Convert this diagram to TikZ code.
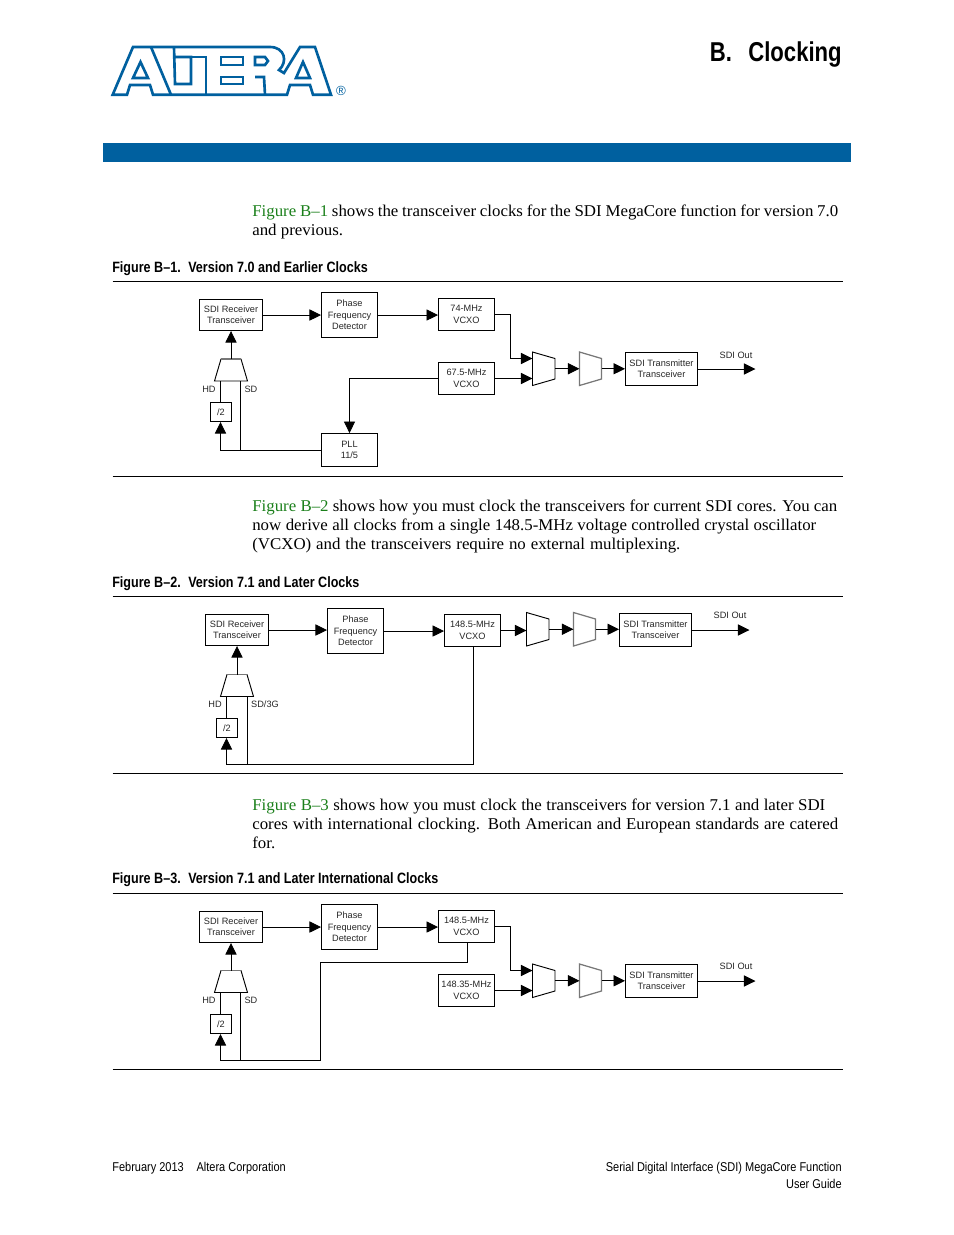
\documentclass[tikz,border=0pt]{standalone}
\usepackage{fontspec}
\usetikzlibrary{arrows.meta}
\setmainfont[FakeStretch=1.025]{Liberation Serif}
\newfontfamily\dgfont{Liberation Sans}
\newfontfamily\condfont[FakeStretch=0.86]{Liberation Sans}
\newfontfamily\headfont[FakeStretch=0.84]{Liberation Sans}
\newfontfamily\titlefont[FakeStretch=0.81]{Liberation Sans}
\definecolor{alterablue}{HTML}{00609F}
\definecolor{figgreen}{HTML}{1A7F1A}
\definecolor{muxgray}{HTML}{777777}
\tikzset{
  blk/.style={draw=black,line width=0.6pt,inner sep=0pt,align=center,font=\dgfont\fontsize{5.9}{7.3}\selectfont,text=black!85},
  lab/.style={inner sep=0pt,font=\dgfont\fontsize{5.9}{7.3}\selectfont,text=black!85},
  wire/.style={line width=0.6pt,draw=black},
  arr/.style={wire,-{Triangle[length=7.4pt,width=7.2pt]}},
  hole/.style={inner sep=0pt,outer sep=0pt},
  muxa/.style={draw=black,line width=0.6pt},
  muxb/.style={draw=muxgray,line width=0.8pt},
  rulel/.style={line width=0.6pt,draw=black},
  body/.style={inner sep=0pt,anchor=west,align=left,font=\fontsize{10.55}{12.2}\selectfont},
  fighead/.style={inner sep=0pt,anchor=west,font=\headfont\bfseries\fontsize{9.6}{11}\selectfont},
  foot/.style={inner sep=0pt,font=\condfont\fontsize{8.2}{10}\selectfont},
  logol/.style={draw=alterablue,line width=1.7pt,line join=miter,fill=white},
  logos/.style={draw=alterablue,line width=1.7pt,line join=miter}
}
\newcommand{\bx}[6]{\node[blk,minimum width={(#4-#2)*0.6415pt},minimum height={(#5-#3)*0.6415pt}] (#1) at ({(#2+#4)/2},{(#3+#5)/2}) {#6};}
\newcommand{\muxh}[6]{\node[hole,minimum width={(#5-#2)*0.6415pt},minimum height={(#4-#3)*0.6415pt}] (#1) at ({(#2+#5)/2},{(#3+#4)/2}) {};
  \draw[#6] (#2,#3) -- (#5,#3+6.5) -- (#5,#4-6.5) -- (#2,#4) -- cycle;}
\newcommand{\trap}[4]{\node[hole,minimum width={33*0.6415pt},minimum height={(#4-#3)*0.6415pt}] (#1) at (#2,{(#3+#4)/2}) {};
  \draw[muxa] (#2-10,#3) -- (#2-16.5,#4) -- (#2+16.5,#4) -- (#2+10,#3) -- cycle;
  \draw[muxb] (#2-10,#3) -- (#2+10,#3);}
\newcommand{\tl}[2]{\makebox[#1pt][s]{#2}}
\begin{document}
\begin{tikzpicture}[x=0.6415pt,y=-0.6415pt]
\useasboundingbox (0,0) rectangle (954,1235);
% logo
\path[logol] (112.7,94.7) -- (127,94.7) -- (130,85) -- (150,85) -- (153,94.7) -- (287,94.7) -- (290,85) -- (310,85) -- (313,94.7) -- (331,94.7) -- (315,47) -- (300,47) -- (284,73) -- (279,70) .. controls (288,62) and (285,47) .. (270,47) -- (133,47) -- cycle;
\path[logol] (133,78) -- (140.5,62) -- (148,78) -- cycle;
\path[logol] (296,78) -- (303,62) -- (310,78) -- cycle;
\path[logol] (221,57) -- (243,57) -- (243,65) -- (221,65) -- cycle;
\path[logol] (221,77) -- (243,77) -- (243,84) -- (221,84) -- cycle;
\path[logol] (255,57) -- (265,57) -- (268,61) -- (265,65) -- (255,65) -- cycle;
\draw[logos] (255,77) -- (264,77) -- (265,94.7);
\draw[logos] (151,47) -- (171,94.7);
\draw[logos] (174,47) -- (175,84) -- (191,84) -- (191,57) -- (175,57);
\draw[logos] (191,57) -- (206,57) -- (206,94.7);
\node[inner sep=0pt,text=alterablue,font=\dgfont\fontsize{8.5}{9}\selectfont] (reg) at (341,91) {®};
\node[inner sep=0pt,anchor=east,font=\titlefont\bfseries\fontsize{17.5}{20}\selectfont] (title) at (842,55) {B.\hspace{0.6em}Clocking};
\fill[alterablue] (103,143) rectangle (851,162);
% body text
\node[body] (p1) at (252,222) {\tl{375.9}{\textcolor{figgreen}{Figure B–1} shows the transceiver clocks for the SDI MegaCore function for version 7.0}\\and previous.};
\node[body] (p2) at (252,526.5) {\tl{375.3}{\textcolor{figgreen}{Figure B–2} shows how you must clock the transceivers for current SDI cores. You can}\\\tl{361.8}{now derive all clocks from a single 148.5-MHz voltage controlled crystal oscillator}\\\tl{274.6}{(VCXO) and the transceivers require no external multiplexing.}};
\node[body] (p3) at (252,823.5) {\tl{367.6}{\textcolor{figgreen}{Figure B–3} shows how you must clock the transceivers for version 7.1 and later SDI}\\\tl{375.9}{cores with international clocking. Both American and European standards are catered}\\for.};
\node[fighead] (h1) at (112,268.5) {Figure B–1.\hspace{0.5em}Version 7.0 and Earlier Clocks};
\node[fighead] (h2) at (112,583.5) {Figure B–2.\hspace{0.5em}Version 7.1 and Later Clocks};
\node[fighead] (h3) at (112,879.5) {Figure B–3.\hspace{0.5em}Version 7.1 and Later International Clocks};
\begin{scope}[shift={(0.5,0.5)}]
\foreach \yy in {281,476,596,773,893,1069} \draw[rulel] (112,\yy) -- (842.5,\yy);
% ---- figure 1
\bx{ra}{199}{299}{262}{330}{SDI Receiver\\Transceiver}
\bx{pa}{321}{292}{377}{337}{Phase\\Frequency\\Detector}
\bx{va}{438}{298}{494}{330}{74-MHz\\VCXO}
\bx{wa}{438}{362}{494}{394}{67.5-MHz\\VCXO}
\bx{la}{321}{433}{377}{466}{PLL\\11/5}
\bx{da}{210}{402}{231}{421}{/2}
\bx{ta}{625}{352}{697}{385}{SDI Transmitter\\Transceiver}
\muxh{ma}{532}{351.5}{385}{554.5}{muxa}
\muxh{na}{579}{351.5}{385}{601}{muxb}
\trap{za}{230.5}{358.5}{380.5}
\node[lab] (hda) at (208.5,388.5) {HD};
\node[lab] (sda) at (250.5,388.5) {SD};
\node[lab] (oa) at (735.5,354.5) {SDI Out};
\coordinate (ea) at (755,369);
\coordinate (ja) at (510,358);
\coordinate (ka) at (532,358);
\coordinate (qa) at (532,378);
\coordinate (ca) at (220,449);
\coordinate (sa) at (240,380.5);
\coordinate (ha) at (220,380.5);
\coordinate (ua) at (349,378);
\draw[arr] (ra.east) -- (pa.west |- ra.east);
\draw[arr] (pa.east) -- (va.west |- pa.east);
\draw[arr] (va.east) -| (ja) -- (ka);
\draw[arr] (wa.east) -- (qa);
\draw[arr] (ma.east) -- (na.west);
\draw[arr] (na.east) -- (ta.west |- na.east);
\draw[arr] (ta.east) -- (ea |- ta.east);
\draw[arr] (wa.west) -- (ua) -- (la.north);
\draw[arr] (la.west) -- (la.west -| ca) -- (da.south -| ca);
\draw[wire] (sa) -- (sa |- la.west);
\draw[wire] (ha) -- (da.north -| ha);
\draw[arr] (za.north) -- (ra.south -| za.north);
% ---- figure 2
\bx{rb}{205}{614}{268}{645}{SDI Receiver\\Transceiver}
\bx{pb}{327}{608}{383}{653}{Phase\\Frequency\\Detector}
\bx{vb}{444}{614}{500}{646}{148.5-MHz\\VCXO}
\bx{db}{216}{718}{237}{737}{/2}
\bx{tb}{619}{613}{691}{646}{SDI Transmitter\\Transceiver}
\muxh{mb}{526}{612}{645.5}{548.5}{muxa}
\muxh{nb}{573}{612}{645.5}{595}{muxb}
\trap{zb}{236.5}{674}{696}
\node[lab] (hdb) at (214.5,703.5) {HD};
\node[lab] (sdb) at (264.5,703.5) {SD/3G};
\node[lab] (ob) at (729.5,614.5) {SDI Out};
\coordinate (eb) at (749,630);
\coordinate (bb) at (247,764);
\coordinate (cb) at (226,764);
\coordinate (fb) at (473,764);
\coordinate (sb) at (247,696);
\coordinate (hb) at (226,696);
\draw[arr] (rb.east) -- (pb.west |- rb.east);
\draw[arr] (pb.east) -- (vb.west |- pb.east);
\draw[arr] (vb.east) -- (mb.west |- vb.east);
\draw[arr] (mb.east) -- (nb.west);
\draw[arr] (nb.east) -- (tb.west |- nb.east);
\draw[arr] (tb.east) -- (eb |- tb.east);
\draw[arr] (fb |- vb.south) -- (fb) -- (cb) -- (db.south -| cb);
\draw[wire] (sb) -- (bb);
\draw[wire] (hb) -- (db.north -| hb);
\draw[arr] (zb.north) -- (rb.south -| zb.north);
% ---- figure 3
\bx{rc}{199}{911}{262}{942}{SDI Receiver\\Transceiver}
\bx{pc}{321}{904}{377}{949}{Phase\\Frequency\\Detector}
\bx{vc}{438}{910}{494}{942}{148.5-MHz\\VCXO}
\bx{wc}{438}{974}{494}{1006}{148.35-MHz\\VCXO}
\bx{dc}{210}{1014}{231}{1033}{/2}
\bx{tc}{625}{964}{697}{997}{SDI Transmitter\\Transceiver}
\muxh{mc}{532}{963.5}{997}{554.5}{muxa}
\muxh{nc}{579}{963.5}{997}{601}{muxb}
\trap{zc}{230.5}{970}{992}
\node[lab] (hdc) at (208.5,999.5) {HD};
\node[lab] (sdc) at (250.5,999.5) {SD};
\node[lab] (oc) at (735.5,965.5) {SDI Out};
\coordinate (ec) at (755,981);
\coordinate (jc) at (510,970);
\coordinate (kc) at (532,970);
\coordinate (qc) at (532,990);
\coordinate (bc) at (320,1060);
\coordinate (cc) at (220,1060);
\coordinate (gc) at (320,962);
\coordinate (ic) at (467,962);
\coordinate (sc) at (240,992);
\coordinate (tcc) at (240,1060);
\coordinate (hc) at (220,992);
\draw[arr] (rc.east) -- (pc.west |- rc.east);
\draw[arr] (pc.east) -- (vc.west |- pc.east);
\draw[arr] (vc.east) -| (jc) -- (kc);
\draw[arr] (wc.east) -- (qc);
\draw[arr] (mc.east) -- (nc.west);
\draw[arr] (nc.east) -- (tc.west |- nc.east);
\draw[arr] (tc.east) -- (ec |- tc.east);
\draw[arr] (vc.south -| ic) -- (ic) -- (gc) -- (bc) -- (cc) -- (dc.south -| cc);
\draw[wire] (sc) -- (tcc);
\draw[wire] (hc) -- (dc.north -| hc);
\draw[arr] (zc.north) -- (rc.south -| zc.north);
\end{scope}
% footer
\node[foot,anchor=west] (f1) at (112,1168) {February 2013\hspace{1em}Altera Corporation};
\node[foot,anchor=east] (f2) at (842,1168) {Serial Digital Interface (SDI) MegaCore Function};
\node[foot,anchor=east] (f3) at (842,1184) {User Guide};
\end{tikzpicture}
\end{document}
